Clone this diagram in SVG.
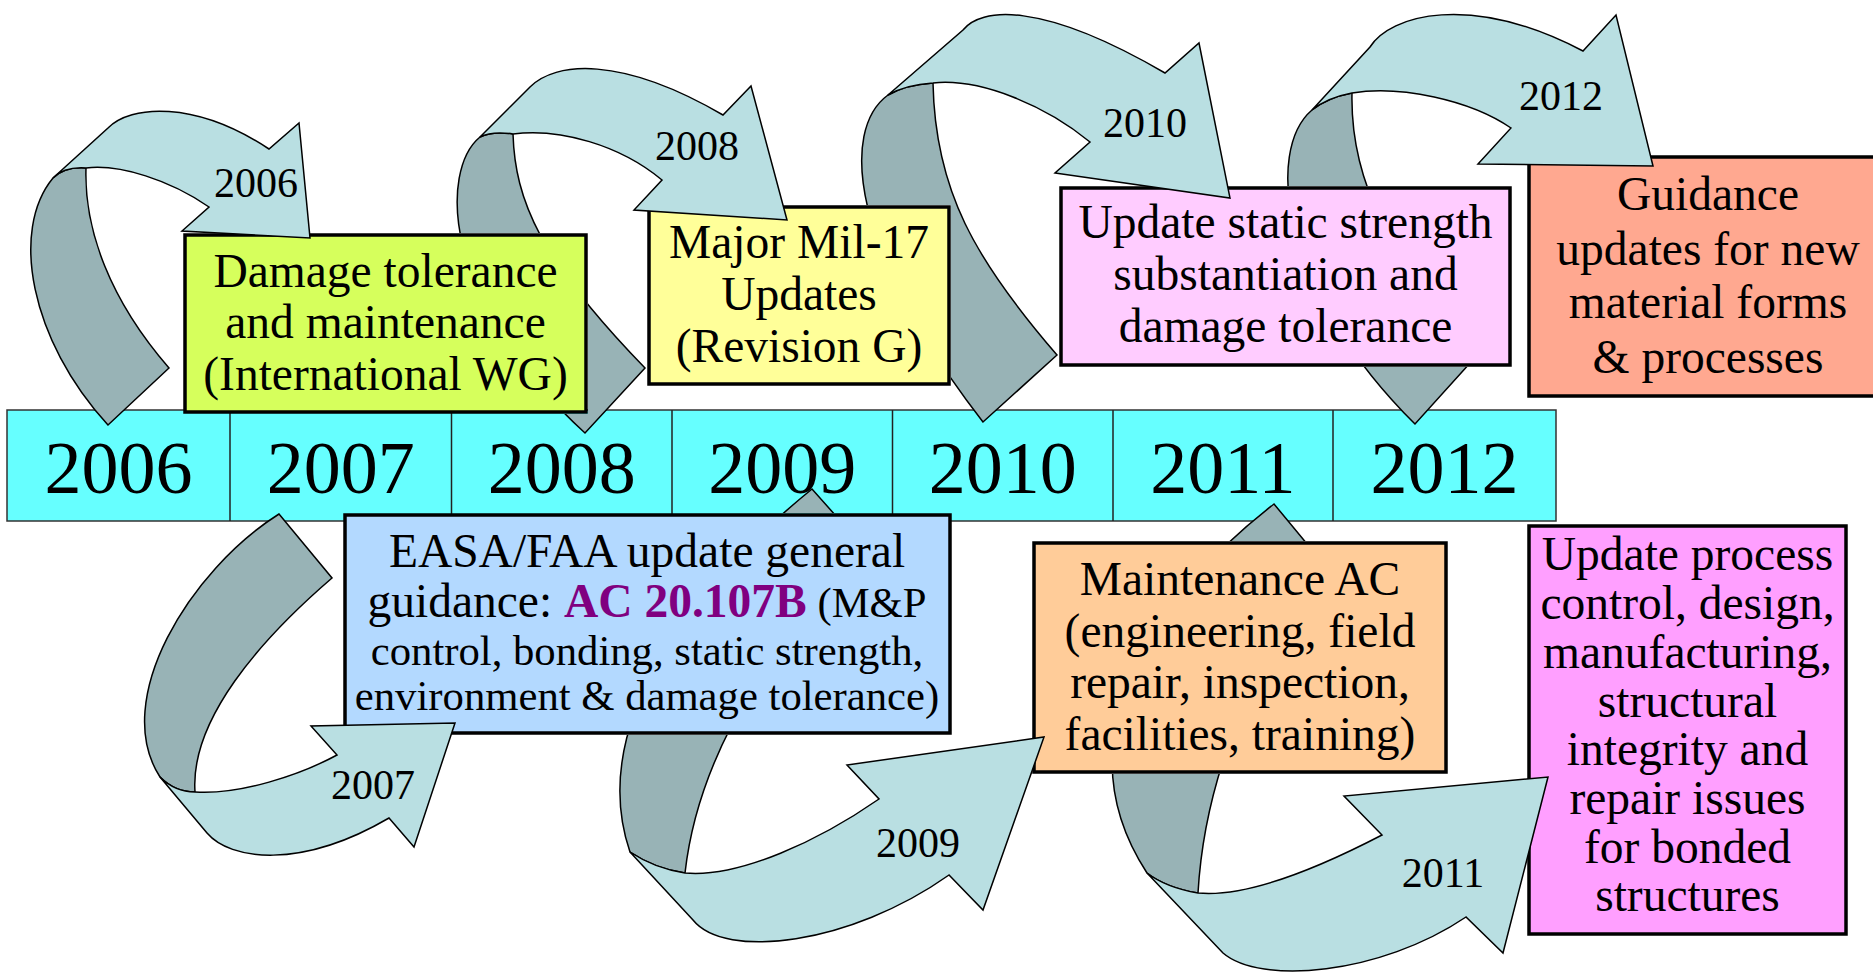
<svg xmlns="http://www.w3.org/2000/svg" width="1873" height="974" viewBox="0 0 1873 974">
<style>
  .bar { fill: #66FFFF; stroke: #333333; stroke-width: 1.5; }
  .div { stroke: #222222; stroke-width: 1.5; }
  .yr { font-family: "Liberation Serif", "Times New Roman", serif; font-size: 74px; fill: #000; text-anchor: middle; }
  .box { stroke: #000; stroke-width: 3.5; }
  .t { font-family: "Liberation Serif", "Times New Roman", serif; font-size: 47.5px; fill: #000; text-anchor: middle; }
  .ts { font-size: 42.7px; }
  .ac { font-weight: bold; fill: #800080; }
  .dark { fill: #98B3B6; stroke: #000; stroke-width: 1.5; stroke-linejoin: miter; }
  .light { fill: #B9DFE2; stroke: #000; stroke-width: 1.5; stroke-linejoin: miter; }
  .lbl { font-family: "Liberation Serif", "Times New Roman", serif; font-size: 42px; fill: #000; text-anchor: middle; }
</style>
<defs>
  <mask id="behindBoxes" maskUnits="userSpaceOnUse" x="0" y="0" width="1873" height="974">
    <rect x="0" y="0" width="1873" height="974" fill="#fff"/>
    <rect x="183" y="233" width="405" height="181" fill="#000"/>
    <rect x="647" y="205" width="304" height="181" fill="#000"/>
    <rect x="1059" y="186" width="453" height="181" fill="#000"/>
    <rect x="343" y="513" width="609" height="222" fill="#000"/>
    <rect x="1032" y="541" width="416" height="233" fill="#000"/>
  </mask>
</defs>
<rect width="1873" height="974" fill="#fff"/>

<g id="timeline">
  <rect class="bar" x="7" y="410" width="1549" height="111"/>
  <line class="div" x1="230" y1="410" x2="230" y2="521"/>
  <line class="div" x1="451.5" y1="410" x2="451.5" y2="521"/>
  <line class="div" x1="672" y1="410" x2="672" y2="521"/>
  <line class="div" x1="892.5" y1="410" x2="892.5" y2="521"/>
  <line class="div" x1="1113" y1="410" x2="1113" y2="521"/>
  <line class="div" x1="1333" y1="410" x2="1333" y2="521"/>
  <text class="yr" x="118.5" y="493">2006</text>
  <text class="yr" x="340.8" y="493">2007</text>
  <text class="yr" x="561.8" y="493">2008</text>
  <text class="yr" x="782.3" y="493">2009</text>
  <text class="yr" x="1002.8" y="493">2010</text>
  <text class="yr" x="1223" y="493">2011</text>
  <text class="yr" x="1444.5" y="493">2012</text>
</g>

<g id="node-damage-tolerance">
  <rect class="box" x="185" y="235" width="401" height="177" fill="#D6FF5C"/>
  <text class="t" x="385.5" y="287">Damage tolerance</text>
  <text class="t" x="385.5" y="338">and maintenance</text>
  <text class="t" x="385.5" y="390">(International WG)</text>
</g>

<g id="node-mil17">
  <rect class="box" x="649" y="207" width="300" height="177" fill="#FFFF99"/>
  <text class="t" x="799" y="258">Major Mil-17</text>
  <text class="t" x="799" y="310">Updates</text>
  <text class="t" x="799" y="362">(Revision G)</text>
</g>

<g id="node-static-strength">
  <rect class="box" x="1061" y="188" width="449" height="177" fill="#FFCCFF"/>
  <text class="t" x="1285.5" y="238">Update static strength</text>
  <text class="t" x="1285.5" y="290">substantiation and</text>
  <text class="t" x="1285.5" y="342">damage tolerance</text>
</g>

<g id="node-guidance">
  <rect class="box" x="1529" y="157" width="360" height="239" fill="#FFA890"/>
  <text class="t" x="1708" y="210">Guidance</text>
  <text class="t" x="1708" y="265">updates for new</text>
  <text class="t" x="1708" y="318">material forms</text>
  <text class="t" x="1708" y="373">&amp; processes</text>
</g>

<g id="node-easa-faa">
  <rect class="box" x="345" y="515" width="605" height="218" fill="#B3D9FF"/>
  <text class="t" x="647" y="567">EASA/FAA update general</text>
  <text class="t" x="647" y="617">guidance: <tspan class="ac">AC 20.107B</tspan><tspan class="ts"> (M&amp;P</tspan></text>
  <text class="t ts" x="647" y="665">control, bonding, static strength,</text>
  <text class="t ts" x="647" y="710">environment &amp; damage tolerance)</text>
</g>

<g id="node-maintenance-ac">
  <rect class="box" x="1034" y="543" width="412" height="229" fill="#FFCC99"/>
  <text class="t" x="1240" y="595">Maintenance AC</text>
  <text class="t" x="1240" y="647">(engineering, field</text>
  <text class="t" x="1240" y="698">repair, inspection,</text>
  <text class="t" x="1240" y="750">facilities, training)</text>
</g>

<g id="node-process-control">
  <rect class="box" x="1529" y="526" width="317" height="408" fill="#FF9FFF"/>
  <text class="t" x="1687.5" y="570">Update process</text>
  <text class="t" x="1687.5" y="619">control, design,</text>
  <text class="t" x="1687.5" y="668">manufacturing,</text>
  <text class="t" x="1687.5" y="717">structural</text>
  <text class="t" x="1687.5" y="765">integrity and</text>
  <text class="t" x="1687.5" y="814">repair issues</text>
  <text class="t" x="1687.5" y="863">for bonded</text>
  <text class="t" x="1687.5" y="911">structures</text>
</g>

<g id="connectors">
  <g id="arrow-2006">
    <path class="dark" d="M53,178 C10,230 30,340 108,425 L169,368 C110,300 84,230 86,168 C72,167 60,171 53,178 Z"/>
    <path class="light" d="M53,178 C60,171 72,167 86,168 C120,164 170,180 209,207 L182,231 L310,238 L299,123 L269,149 C195,100 130,105 108,128 Z"/>
    <text class="lbl" x="256" y="197">2006</text>
  </g>
  <g id="arrow-2008">
    <path class="dark" mask="url(#behindBoxes)" d="M480,137 C440,170 440,300 585,433 L645,368 C540,260 515,200 513,134 C500,132 488,133 480,137 Z"/>
    <path class="light" d="M480,137 C488,133 500,132 513,134 C560,128 620,145 662,180 L634,210 L787,220 L751,86 L723,115 C620,55 555,62 530,87 Z"/>
    <text class="lbl" x="697" y="160">2008</text>
  </g>
  <g id="arrow-2010">
    <path class="dark" mask="url(#behindBoxes)" d="M888,95 C840,130 850,250 983,422 L1057,355 C975,260 935,190 933,83 C918,84 900,88 888,95 Z"/>
    <path class="light" d="M888,95 C900,88 918,84 933,83 C980,78 1045,105 1090,142 L1055,173 L1230,198 L1199,43 L1165,73 C1040,0 980,8 963,30 Z"/>
    <text class="lbl" x="1145" y="137">2010</text>
  </g>
  <g id="arrow-2012">
    <path class="dark" mask="url(#behindBoxes)" d="M1312,110 C1265,150 1280,290 1415,424 L1480,352 C1390,260 1350,180 1352,93 C1336,96 1322,102 1312,110 Z"/>
    <path class="light" d="M1312,110 C1322,102 1336,96 1352,93 C1400,85 1470,100 1511,128 L1478,164 L1653,166 L1616,15 L1583,51 C1470,-8 1390,15 1370,47 Z"/>
    <text class="lbl" x="1561" y="110">2012</text>
  </g>
  <g id="arrow-2007">
    <path class="dark" d="M279,514 C190,570 110,700 160,777 C170,787 182,792 195,792 C190,720 260,640 332,578 Z"/>
    <path class="light" d="M160,777 L207,833 C230,860 300,870 389,818 L414,847 L455,723 L311,726 L337,755 C300,775 240,795 195,792 C182,792 170,787 160,777 Z"/>
    <text class="lbl" x="373" y="799">2007</text>
  </g>
  <g id="arrow-2009">
    <path class="dark" mask="url(#behindBoxes)" d="M812,489 C700,580 585,720 630,852 C645,862 665,870 685,873 C700,740 790,620 868,552 Z"/>
    <path class="light" d="M630,852 L693,920 C725,960 850,945 949,875 L983,910 L1044,737 L847,765 L879,799 C820,840 740,878 685,873 C665,870 645,862 630,852 Z"/>
    <text class="lbl" x="918" y="857">2009</text>
  </g>
  <g id="arrow-2011">
    <path class="dark" mask="url(#behindBoxes)" d="M1274,504 C1150,600 1060,740 1147,873 C1160,883 1180,890 1198,893 C1205,770 1260,650 1327,568 Z"/>
    <path class="light" d="M1147,873 L1223,953 C1260,985 1380,975 1466,917 L1503,953 L1548,777 L1344,796 L1382,835 C1330,862 1250,898 1198,893 C1180,890 1160,883 1147,873 Z"/>
    <text class="lbl" x="1443" y="887">2011</text>
  </g>
</g>
</svg>
